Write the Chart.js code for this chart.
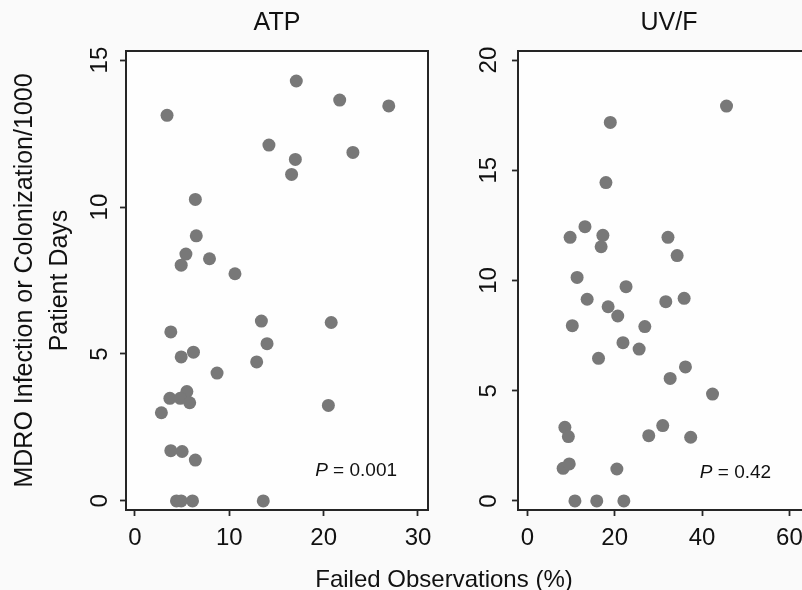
<!DOCTYPE html>
<html>
<head>
<meta charset="utf-8">
<title>MDRO vs failed observations</title>
<script src="https://cdn.jsdelivr.net/npm/chart.js@4.4.1/dist/chart.umd.min.js"></script>
<style>
  html, body { margin: 0; padding: 0; background: #fafafa; overflow: hidden; }
  #page { position: relative; width: 802px; height: 590px; overflow: hidden; font-family: "Liberation Sans", Arial, sans-serif; }
  #atp-wrap { position: absolute; left: 0; top: 0; }
  #uvf-wrap { position: absolute; left: 444px; top: 0; }
  #x-title { position: absolute; left: 0; width: 888px; top: 565px; text-align: center; font-size: 24px; line-height: 28px; color: #111; }
</style>
</head>
<body>
<div id="page">
  <div id="atp-wrap"><canvas id="atp" width="445" height="590"></canvas></div>
  <div id="uvf-wrap"><canvas id="uvf" width="400" height="590"></canvas></div>
  <div id="x-title">Failed Observations (%)</div>
</div>
<script>
// ATP panel: failed observations (%) vs MDRO rate
const atpX = [3.4, 17.1, 21.7, 26.9, 14.2, 23.1, 17.0, 16.6, 6.4, 6.5, 5.4, 4.9, 7.9, 10.6, 13.4,
  20.8, 3.8, 14.0, 4.9, 6.2, 12.9, 8.7, 5.5, 3.7, 4.8, 5.8, 2.8, 20.5, 3.8, 5.0, 6.4, 4.4, 4.9, 6.1, 13.6];
const atpY = [13.12, 14.29, 13.64, 13.44, 12.11, 11.86, 11.62, 11.11, 10.26, 9.02, 8.40, 8.02, 8.24, 7.73, 6.12,
  6.07, 5.75, 5.35, 4.90, 5.06, 4.73, 4.35, 3.72, 3.49, 3.49, 3.34, 3.0, 3.25, 1.71, 1.68, 1.39, 0, 0, 0, 0];

// UV/F panel
const uvfX = [45.6, 19.0, 18.0, 13.2, 9.8, 17.3, 16.9, 32.2, 34.3, 11.4, 22.6, 13.7, 31.7, 35.9, 18.5,
  20.7, 10.3, 26.9, 21.9, 25.6, 16.3, 36.2, 32.7, 42.4, 8.6, 9.4, 31.0, 27.8, 37.4, 8.2, 9.6, 20.5, 10.9, 15.9, 22.1];
const uvfY = [17.91, 17.17, 14.44, 12.44, 11.96, 12.05, 11.53, 11.96, 11.13, 10.14, 9.72, 9.15, 9.04, 9.19, 8.81,
  8.39, 7.95, 7.91, 7.18, 6.89, 6.47, 6.08, 5.56, 4.85, 3.34, 2.92, 3.42, 2.96, 2.89, 1.48, 1.68, 1.45, 0, 0, 0];

const atpXTicks = [0, 10, 20, 30];
const atpYTicks = [0, 5, 10, 15];
const uvfXTicks = [0, 20, 40, 60];
const uvfYTicks = [0, 5, 10, 15, 20];

const panelTitles = ["ATP", "UV/F"];
const pValues = ["0.001", "0.42"];
const yTitle = ["MDRO Infection or Colonization/1000", "Patient Days"];

const FONT = "'Liberation Sans', Arial, Helvetica, sans-serif";
const INK = "#111111";
const DOT = "#787878";

function toPoints(xs, ys) {
  return xs.map((x, i) => ({ x: x, y: ys[i] }));
}

// white plot area, box frame, panel title and the P annotation
const panelDecor = {
  id: "panelDecor",
  beforeDraw(chart) {
    const { ctx, chartArea: a } = chart;
    ctx.save();
    ctx.fillStyle = "#fefefe";
    ctx.fillRect(a.left, a.top, a.right - a.left, a.bottom - a.top);
    ctx.restore();
  },
  afterDraw(chart, args, opts) {
    const { ctx, chartArea: a, scales } = chart;
    ctx.save();
    ctx.strokeStyle = "#262626";
    ctx.lineWidth = 2;
    ctx.strokeRect(a.left, a.top, a.right - a.left, a.bottom - a.top);

    ctx.fillStyle = INK;
    ctx.textAlign = "center";
    ctx.textBaseline = "middle";
    ctx.font = "25px " + FONT;
    ctx.fillText(opts.title, (a.left + a.right) / 2, 23);

    const px = scales.x.getPixelForValue(opts.pAt[0]);
    const py = scales.y.getPixelForValue(opts.pAt[1]);
    ctx.textAlign = "left";
    ctx.font = "italic 19px " + FONT;
    ctx.fillText("P", px, py);
    const w = ctx.measureText("P").width;
    ctx.font = "19px " + FONT;
    ctx.fillText(" = " + opts.p, px + w, py);
    ctx.restore();
  },
};

function makePanel(canvasId, cfg) {
  return new Chart(document.getElementById(canvasId), {
    type: "scatter",
    data: {
      datasets: [
        {
          data: toPoints(cfg.xs, cfg.ys),
          backgroundColor: DOT,
          borderWidth: 0,
          pointRadius: 6.5,
          pointHoverRadius: 6.5,
        },
      ],
    },
    options: {
      responsive: false,
      animation: false,
      events: [],
      layout: { padding: { top: 51, right: cfg.padRight, left: 0, bottom: 0 } },
      plugins: {
        legend: { display: false },
        tooltip: { enabled: false },
        panelDecor: { title: cfg.title, p: cfg.p, pAt: cfg.pAt },
      },
      scales: {
        x: {
          type: "linear",
          min: cfg.xMin,
          max: cfg.xMax,
          afterBuildTicks: (scale) => {
            scale.ticks = cfg.xTicks.map((v) => ({ value: v }));
          },
          afterFit: (scale) => {
            scale.height = 80;
          },
          border: { display: false },
          grid: { drawOnChartArea: false, tickLength: 6, tickColor: "#262626", tickWidth: 1.8 },
          ticks: { color: INK, font: { family: FONT, size: 24 }, padding: 8, maxRotation: 0 },
        },
        y: {
          type: "linear",
          min: cfg.yMin,
          max: cfg.yMax,
          afterBuildTicks: (scale) => {
            scale.ticks = cfg.yTicks.map((v) => ({ value: v }));
          },
          afterFit: (scale) => {
            scale.width = cfg.yWidth;
          },
          border: { display: false },
          grid: { drawOnChartArea: false, tickLength: 6, tickColor: "#262626", tickWidth: 1.8 },
          ticks: {
            color: INK,
            font: { family: FONT, size: 24 },
            padding: cfg.yPad,
            minRotation: 90,
            maxRotation: 90,
            crossAlign: "center",
          },
          title: cfg.yTitle
            ? {
                display: true,
                text: cfg.yTitle,
                color: INK,
                font: { family: FONT, size: 25, lineHeight: 1.4 },
                padding: { top: 8, bottom: 0 },
              }
            : { display: false },
        },
      },
    },
    plugins: [panelDecor],
  });
}

makePanel("atp", {
  xs: atpX,
  ys: atpY,
  xTicks: atpXTicks,
  yTicks: atpYTicks,
  xMin: -0.95,
  xMax: 31.06,
  yMin: -0.31,
  yMax: 15.31,
  yWidth: 126,
  yPad: 6,
  padRight: 17,
  title: panelTitles[0],
  p: pValues[0],
  pAt: [19.1, 1.02],
  yTitle: yTitle,
});

makePanel("uvf", {
  xs: uvfX,
  ys: uvfY,
  xTicks: uvfXTicks,
  yTicks: uvfYTicks,
  xMin: -2.13,
  xMax: 67.0,
  yMin: -0.41,
  yMax: 20.41,
  yWidth: 74,
  yPad: 9,
  padRight: 24,
  title: panelTitles[1],
  p: pValues[1],
  pAt: [39.5, 1.27],
  yTitle: null,
});
</script>
</body>
</html>
